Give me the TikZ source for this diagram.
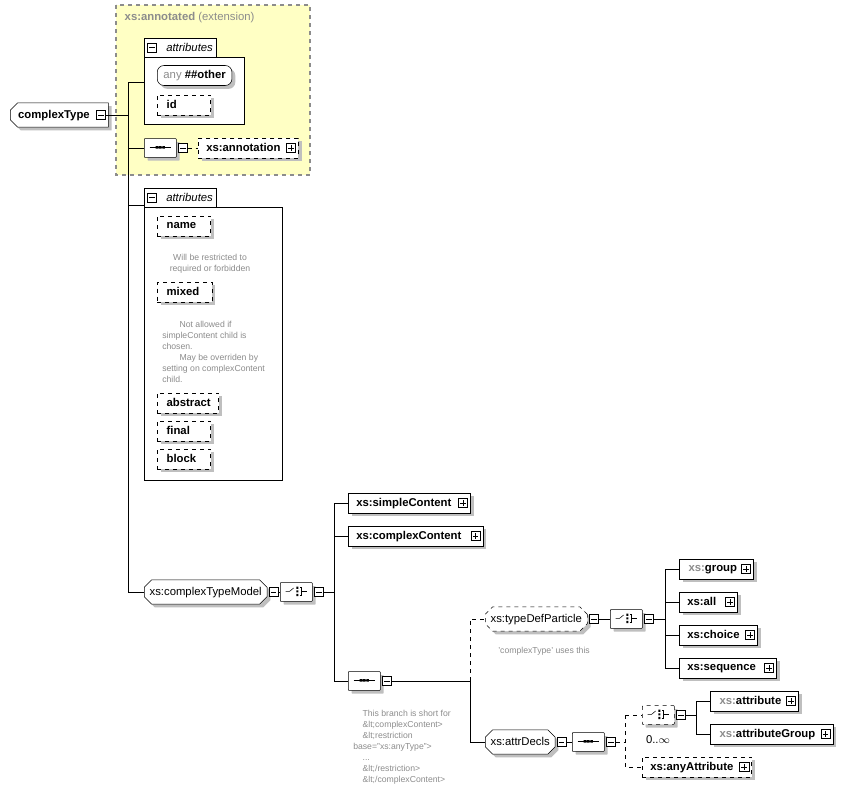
\documentclass[tikz,border=0pt]{standalone}
\usepackage{fontspec}
\setmainfont{Liberation Sans}
\usetikzlibrary{shapes.misc,shadows,positioning,arrows.meta}
\definecolor{annobg}{HTML}{FFFFC4}
\tikzset{
  every node/.style={font=\fontsize{8.5}{10}\selectfont},
  shade/.style={drop shadow={shadow xshift=2.5pt,shadow yshift=-2.5pt,fill=black!25,opacity=1}},
  elem/.style={draw,fill=white,shade,anchor=west,minimum height=15pt,inner sep=2pt,
    align=left,text depth=1pt,font=\fontsize{8.5}{10}\selectfont\bfseries},
  grp/.style={elem,chamfered rectangle,chamfered rectangle xsep=2pt,align=center,font=\fontsize{8.5}{10}\selectfont},
  comp/.style={grp,minimum width=24pt,minimum height=14pt,inner sep=0pt},
  opt/.style={dashed},
  pm/.style={draw,fill=white,minimum size=7pt,inner sep=0pt,
    path picture={\draw ([xshift=1.4pt]path picture bounding box.west) -- ([xshift=-1.4pt]path picture bounding box.east);}},
  plus/.style={pm,path picture={\draw ([xshift=1.4pt]path picture bounding box.west) -- ([xshift=-1.4pt]path picture bounding box.east);
    \draw ([yshift=1.4pt]path picture bounding box.south) -- ([yshift=-1.4pt]path picture bounding box.north);}},
  ref/.style={append after command={[draw,-{Stealth[length=2.5pt]}] ([shift={(1.5pt,1.5pt)}]\tikzlastnode.south west) -- ++(3pt,3pt)}},
  seqsym/.style={path picture={\begin{scope}[shift={(path picture bounding box.center)},x=1pt,y=1pt,solid]
    \draw (-8,0) -- (8,0); \fill[black] (-3.5,-1) rectangle (-1.5,1) (-1,-1) rectangle (1,1) (1.5,-1) rectangle (3.5,1);
    \end{scope}}},
  chsym/.style={path picture={\begin{scope}[shift={(path picture bounding box.center)},x=1pt,y=1pt,solid]
    \draw (-8,0) -- (-5,0) -- (-2,2.5); \fill[black] (0,-3.5) rectangle (1.6,-1.9) (0,-0.8) rectangle (1.6,0.8) (0,1.9) rectangle (1.6,3.5);
    \draw (2.5,-2.7) -- (3.8,-2.7) -- (3.8,2.7) -- (2.5,2.7) (3.8,0) -- (8,0);
    \end{scope}}},
  note/.style={text=black!45,font=\fontsize{6.5}{8.3}\selectfont,align=left,inner sep=0pt},
  tab/.style={draw,fill=white,anchor=south west,minimum height=14.25pt,minimum width=54pt,inner sep=0pt,
    font=\fontsize{8.5}{10}\selectfont\itshape}
}
\begin{document}
\begin{tikzpicture}[x=0.75pt,y=-0.75pt]
\useasboundingbox (0,0) rectangle (856,790);
% extension box
\draw[dashed,draw=black!45,fill=annobg,line width=0.8pt] (116,5) rectangle (310,175);
\node[anchor=west,text=black!45] (ext) at (120,18) {\textbf{xs:annotated} (extension)};
% root
\node[elem,chamfered rectangle,chamfered rectangle corners={north west,south west},chamfered rectangle xsep=2pt,minimum width=73.5pt] (ct) at (10,115) {complexType\hspace{8pt}};
\node[pm,anchor=east] (ctpm) at ([xshift=-2pt]ct.east) {};
% first attributes
\node[draw,fill=white,anchor=north west,minimum width=75pt,minimum height=50.25pt] (attA) at (144,57) {};
\node[tab] (tabA) at (144,57.5) {\hspace{14pt}attributes};
\node[pm] (tabApm) at (152,47.5) {};
\node[elem,rounded corners=5pt,minimum width=56pt,font=\fontsize{8.5}{10}\selectfont] (other) at (157,75.5) {{\color{black!45}any} \textbf{\#\#other}};
\node[elem,opt,text width=36pt] (id) at (157,105) {\hspace{5pt}id};
\node[comp,seqsym] (seqA) at (144,148) {};
\node[pm,right=1pt of seqA] (seqApm) {};
\node[elem,opt,ref,text width=71pt] (anno) at (198,148) {\hspace{4pt}xs:annotation};
\node[plus,anchor=east] (annopm) at ([xshift=-2pt]anno.east) {};
% second attributes
\node[draw,fill=white,anchor=north west,minimum width=103.5pt,minimum height=204.75pt] (attB) at (144,207) {};
\node[tab] (tabB) at (144,207.5) {\hspace{14pt}attributes};
\node[pm] (tabBpm) at (152,197.5) {};
\node[elem,opt,text width=36pt] (name) at (157,226) {\hspace{5pt}name};
\node[note,align=center] (nameNote) at (210,264) {Will be restricted to\\required or forbidden};
\node[elem,opt,text width=37pt] (mixed) at (157,292) {\hspace{5pt}mixed};
\node[note,anchor=west] (mixedNote) at (162,352) {\hspace{13pt}Not allowed if\\simpleContent child is\\chosen.\\\hspace{13pt}May be overriden by\\setting on complexContent\\child.};
\node[elem,opt,text width=42pt] (abstract) at (157,403) {\hspace{5pt}abstract};
\node[elem,opt,text width=36pt] (final) at (157,431) {\hspace{5pt}final};
\node[elem,opt,text width=36pt] (block) at (157,459) {\hspace{5pt}block};
% complexTypeModel
\node[grp,minimum width=85.5pt] (ctm) at (144,592) {xs:complexTypeModel};
\node[pm,right=1pt of ctm] (ctmpm) {};
\node[comp,chsym] (chA) at (280,592) {};
\node[pm,right=1pt of chA] (chApm) {};
\node[elem,ref,text width=87.5pt] (simple) at (348,503) {\hspace{4pt}xs:simpleContent};
\node[plus,anchor=east] (simplepm) at ([xshift=-2pt]simple.east) {};
\node[elem,ref,text width=97pt] (complex) at (348,536) {\hspace{4pt}xs:complexContent};
\node[plus,anchor=east] (complexpm) at ([xshift=-2pt]complex.east) {};
\node[comp,seqsym] (seqB) at (348,681) {};
\node[pm,right=1pt of seqB] (seqBpm) {};
\node[note,anchor=west] (branchNote) at (353,747) {\hspace{7pt}This branch is short for\\\hspace{7pt}\&lt;complexContent>\\\hspace{7pt}\&lt;restriction\\base="xs:anyType">\\\hspace{7pt}...\\\hspace{7pt}\&lt;/restriction>\\\hspace{7pt}\&lt;/complexContent>};
% typeDefParticle
\node[grp,opt,minimum width=73.5pt] (tdp) at (485,619) {xs:typeDefParticle};
\node[pm,right=1pt of tdp] (tdppm) {};
\node[note,anchor=west] (tdpNote) at (498,651) {'complexType' uses this};
\node[comp,chsym] (chB) at (610,619) {};
\node[pm,right=1pt of chB] (chBpm) {};
\node[elem,text width=51.5pt] (group) at (679,569) {\hspace{5pt}{\color{black!45}xs:}group};
\node[plus,anchor=east] (grouppm) at ([xshift=-2pt]group.east) {};
\node[elem,ref,text width=39.5pt] (all) at (679,602) {\hspace{4pt}xs:all};
\node[plus,anchor=east] (allpm) at ([xshift=-2pt]all.east) {};
\node[elem,ref,text width=54.5pt] (choice) at (679,635) {\hspace{4pt}xs:choice};
\node[plus,anchor=east] (choicepm) at ([xshift=-2pt]choice.east) {};
\node[elem,ref,text width=68.75pt] (sequence) at (679,668) {\hspace{4pt}xs:sequence};
\node[plus,anchor=east] (sequencepm) at ([xshift=-2pt]sequence.east) {};
% attrDecls
\node[grp,minimum width=51.75pt] (ad) at (485,742) {xs:attrDecls};
\node[pm,right=1pt of ad] (adpm) {};
\node[comp,seqsym] (seqC) at (572,742) {};
\node[pm,right=1pt of seqC] (seqCpm) {};
\node[comp,chsym,opt] (chC) at (642,715) {};
\node[pm,right=1pt of chC] (chCpm) {};
\node[inner sep=0pt] (chCocc) at (658,740) {0..$\infty$};
\node[elem,text width=62pt] (attr) at (710,701) {\hspace{5pt}{\color{black!45}xs:}attribute};
\node[plus,anchor=east] (attrpm) at ([xshift=-2pt]attr.east) {};
\node[elem,text width=88pt] (attrg) at (710,734) {\hspace{5pt}{\color{black!45}xs:}attributeGroup};
\node[plus,anchor=east] (attrgpm) at ([xshift=-2pt]attrg.east) {};
\node[elem,opt,ref,text width=78pt] (anyattr) at (642,767) {\hspace{4pt}xs:anyAttribute};
\node[plus,anchor=east] (anyattrpm) at ([xshift=-2pt]anyattr.east) {};
% spines
\coordinate (sA1) at (128,82);
\coordinate (sA3) at (128,205);
\coordinate (sA2) at (128,592);
\coordinate (sB1) at (334,503);
\coordinate (sB2) at (334,681);
\coordinate (sC1) at (470,619);
\coordinate (sC2) at (470,742);
\coordinate (sD1) at (665,569);
\coordinate (sD2) at (665,668);
\coordinate (sE1) at (625,715);
\coordinate (sE2) at (625,767);
\coordinate (sF1) at (696,701);
\coordinate (sF2) at (696,734);
\draw (sA1) -- (sA2);
\draw (ctpm.east) -- (ctpm.east -| sA1);
\draw (sA1) -- (sA1 -| attA.west);
\draw (seqA.west -| sA1) -- (seqA.west);
\draw[dashed] (seqApm.east) -- (anno.west);
\draw (sA3) -- (sA3 -| attB.west);
\draw (sA2) -- (ctm.west);
\draw (ctmpm.east) -- (chA.west);
\draw (chApm.east) -- (chApm.east -| sB1);
\draw (sB1) -- (sB2);
\draw (sB1) -- (simple.west);
\draw (complex.west -| sB1) -- (complex.west);
\draw (sB2) -- (seqB.west);
\draw (seqBpm.east) -- (seqBpm.east -| sC1);
\draw[dashed] (seqBpm.east -| sC1) -- (sC1) -- (tdp.west);
\draw (seqBpm.east -| sC1) -- (sC2) -- (ad.west);
\draw (tdppm.east) -- (chB.west);
\draw (chBpm.east) -- (chBpm.east -| sD1);
\draw (sD1) -- (sD2);
\draw (sD1) -- (group.west);
\draw (all.west -| sD1) -- (all.west);
\draw (choice.west -| sD1) -- (choice.west);
\draw (sD2) -- (sequence.west);
\draw (adpm.east) -- (seqC.west);
\draw[dashed] (seqCpm.east) -- (seqCpm.east -| sE1);
\draw[dashed] (sE1) -- (sE2) -- (anyattr.west);
\draw[dashed] (sE1) -- (chC.west);
\draw (chCpm.east) -- (chCpm.east -| sF1);
\draw (sF1) -- (sF2);
\draw (sF1) -- (attr.west);
\draw (sF2) -- (attrg.west);
\end{tikzpicture}
\end{document}
